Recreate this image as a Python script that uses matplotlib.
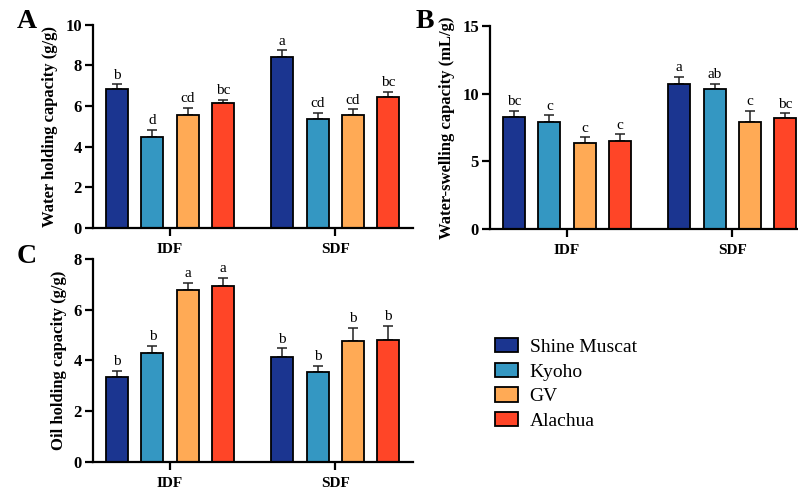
import matplotlib.pyplot as plt
import numpy as np

plt.rcParams['font.family'] = ['Liberation Serif', 'DejaVu Serif']

groups = ['IDF', 'SDF']
varieties = ['Shine Muscat', 'Kyoho', 'GV', 'Alachua']
colors = ['#1b3590', '#3497c2', '#ffaa55', '#ff4527']

# water holding capacity (g/g): [IDF, SDF] per variety
whc_mean = [[6.86, 8.44], [4.49, 5.35], [5.56, 5.56], [6.13, 6.43]]
whc_err = [[0.21, 0.30], [0.33, 0.33], [0.36, 0.28], [0.17, 0.28]]
whc_sig = [['b', 'a'], ['d', 'cd'], ['cd', 'cd'], ['bc', 'bc']]

# water-swelling capacity (mL/g)
wsc_mean = [[8.29, 10.70], [7.87, 10.35], [6.34, 7.87], [6.49, 8.19]]
wsc_err = [[0.42, 0.52], [0.52, 0.37], [0.42, 0.86], [0.49, 0.34]]
wsc_sig = [['bc', 'a'], ['c', 'ab'], ['c', 'c'], ['c', 'bc']]

# oil holding capacity (g/g)
ohc_mean = [[3.34, 4.13], [4.30, 3.53], [6.78, 4.76], [6.92, 4.82]]
ohc_err = [[0.24, 0.35], [0.26, 0.25], [0.28, 0.51], [0.33, 0.54]]
ohc_sig = [['b', 'b'], ['b', 'b'], ['a', 'b'], ['a', 'b']]

group_pos = np.array([0.0, 4.68])
offsets = [-1.5, -0.5, 0.5, 1.5]
bar_w = 0.62


def draw_panel(ax, means, errs, sigs, ylabel, ymax, step, xlim):
    for i, name in enumerate(varieties):
        x = group_pos + offsets[i]
        ax.bar(x, means[i], width=bar_w, color=colors[i], edgecolor='black',
               linewidth=1.3, label=name, zorder=2)
        ax.errorbar(x, means[i], yerr=[[0, 0], errs[i]], fmt='none',
                    ecolor='#222222', elinewidth=1.1, capsize=3.8, capthick=1.1, zorder=1)
        for xx, m, e, s in zip(x, means[i], errs[i], sigs[i]):
            ax.annotate(s, (xx, m + e), xytext=(0, 2), textcoords='offset points',
                        ha='center', va='bottom', fontsize=11)
    ax.set_xlim(*xlim)
    ax.set_ylim(0, ymax)
    ax.set_yticks(np.arange(0, ymax + 0.01, step))
    ax.set_xticks(group_pos)
    ax.set_xticklabels(groups, fontsize=11, fontweight='bold')
    for lab in ax.get_yticklabels():
        lab.set_fontweight('bold')
        lab.set_fontsize(12)
    ax.set_ylabel(ylabel, fontsize=12, fontweight='bold', labelpad=5)
    ax.spines['top'].set_visible(False)
    ax.spines['right'].set_visible(False)
    ax.spines['left'].set_linewidth(1.6)
    ax.spines['bottom'].set_linewidth(1.6)
    ax.tick_params(axis='y', direction='out', length=6, width=1.6, pad=2)
    ax.tick_params(axis='x', direction='out', length=6, width=1.6, pad=5)
    return ax


fig = plt.figure(figsize=(7.98, 4.88), dpi=100)

ax_a = fig.add_axes([93 / 798, 0.533, 320 / 798, 0.416])
draw_panel(ax_a, whc_mean, whc_err, whc_sig, 'Water holding capacity (g/g)', 10, 2,
           (-2.18, 6.88))

ax_b = fig.add_axes([490 / 798, 0.531, 320 / 798, 0.416])
draw_panel(ax_b, wsc_mean, wsc_err, wsc_sig, 'Water-swelling capacity (mL/g)', 15, 5,
           (-2.18, 6.88))

ax_c = fig.add_axes([93 / 798, 0.0533, 320 / 798, 0.416])
draw_panel(ax_c, ohc_mean, ohc_err, ohc_sig, 'Oil holding capacity (g/g)', 8, 2,
           (-2.18, 6.88))

fig.text(0.034, 0.955, 'A', fontsize=20, fontweight='bold', va='center', ha='center')
fig.text(0.532, 0.955, 'B', fontsize=20, fontweight='bold', va='center', ha='center')
fig.text(0.034, 0.475, 'C', fontsize=20, fontweight='bold', va='center', ha='center')

handles, labels = ax_a.get_legend_handles_labels()
fig.legend(handles, labels, loc='upper left', bbox_to_anchor=(495 / 798, 1 - 338 / 488),
           frameon=False, fontsize=14, borderpad=0, handlelength=1.18, handleheight=0.77,
           handletextpad=0.6, labelspacing=0.34, borderaxespad=0)

fig.savefig('out.png', dpi=100)
